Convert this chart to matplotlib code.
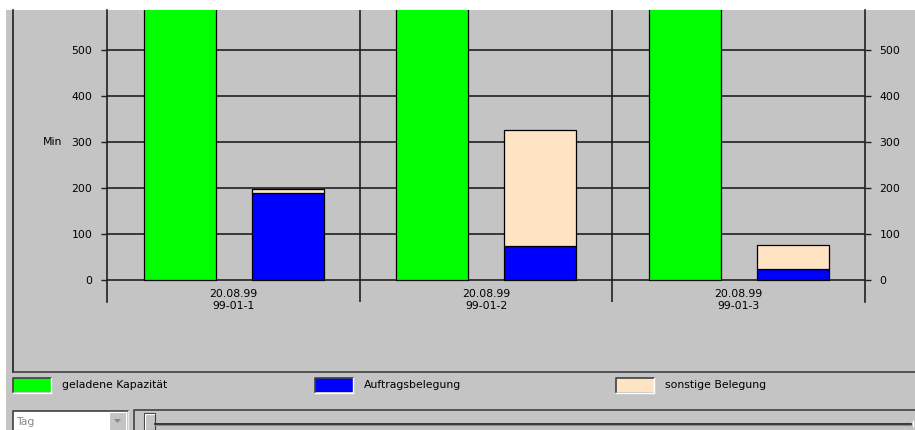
"""
Kapazitaetsauslastung pro Arbeitsplatz (Tagesansicht).
Gestapelte Balken: Auftragsbelegung + sonstige Belegung neben der geladenen Kapazitaet.
"""

import matplotlib

matplotlib.use("Agg")
import matplotlib.pyplot as plt
from matplotlib.patches import Rectangle, Polygon

# Daten
dates = ["20.08.99", "20.08.99", "20.08.99"]
workplaces = ["99-01-1", "99-01-2", "99-01-3"]
capacity = [960, 960, 960]
order_load = [188, 73, 23]
other_load = [9, 252, 52]

series_names = ["geladene Kapazität", "Auftragsbelegung", "sonstige Belegung"]
series_colors = ["#00ff00", "#0000ff", "#ffe4c4"]

y_ticks = [0, 100, 200, 300, 400, 500]

W, H = 915, 430
BG = "#c4c4c4"
DARK = "#202020"
FONT = "DejaVu Sans"
FS = 7.8


def px_axes(fig, left, top, right, bottom, **kw):
    """Axes placed by pixel box (origin top-left)."""
    return fig.add_axes(
        [left / W, 1 - bottom / H, (right - left) / W, (bottom - top) / H], **kw
    )


def main():
    fig = plt.figure(figsize=(W / 100, H / 100), dpi=100, facecolor="white")

    # Fensterrahmen, Legende und Bedienelemente in Pixelkoordinaten
    frame = fig.add_axes([0, 0, 1, 1], zorder=0)
    frame.set_xlim(0, W)
    frame.set_ylim(H, 0)
    frame.axis("off")
    frame.add_patch(Rectangle((6, 10), W - 6, H - 10, color=BG, lw=0))
    # Rahmen des Diagrammbereichs
    frame.plot([12.5, 12.5], [10, 372], color=DARK, lw=1.2)
    frame.plot([12.5, W], [372, 372], color="#404040", lw=1.2)

    # Legende
    for i, (name, col) in enumerate(zip(series_names, series_colors)):
        x0 = 13 + i * 301.5
        frame.add_patch(Rectangle((x0, 378), 38, 14, facecolor=col, lw=0))
        frame.plot([x0, x0, x0 + 38], [392, 378, 378], color="#404040", lw=1.2)
        frame.plot([x0, x0 + 38, x0 + 38], [392.5, 392.5, 378], color="white", lw=1)
        frame.text(x0 + 49, 385.5, name, fontsize=FS, family=FONT,
                   va="center", ha="left", color="black")

    # Auswahlfeld "Tag"
    frame.add_patch(Rectangle((13, 411), 114, 19, facecolor="white", lw=0))
    frame.plot([12.5, 12.5, 127.5], [430, 410.5, 410.5], color="#404040", lw=1.2)
    frame.plot([127.5, 127.5], [410.5, 430], color="#e8e8e8", lw=1)
    frame.add_patch(Rectangle((109, 412), 17, 18, facecolor=BG, lw=0))
    frame.plot([109, 109, 126], [430, 412, 412], color="white", lw=0.8)
    frame.add_patch(Polygon([[114, 419], [121, 419], [117.5, 423]],
                            closed=True, facecolor="#8a8a8a", lw=0))
    frame.text(16, 422, "Tag", fontsize=FS, family=FONT, va="center",
               ha="left", color="#8a8a8a")

    # Schieberegler
    frame.plot([133.5, 133.5, W], [430, 409.5, 409.5], color="#404040", lw=1.2)
    frame.plot([155, 911], [423.5, 423.5], color="#202020", lw=1.2)
    frame.plot([155, 912], [425, 425], color="#8c8c8c", lw=0.8)
    frame.plot([912.5, 912.5], [421, 426], color="white", lw=1)
    frame.add_patch(Rectangle((144, 413), 11, 17, facecolor=BG,
                              edgecolor="#404040", lw=0.8))
    frame.plot([145, 145, 154], [430, 414, 414], color="white", lw=0.8)

    # "Min" Achsentitel
    frame.text(43, 142, "Min", fontsize=FS, family=FONT, va="center",
               ha="left", color="black")

    # Diagramm
    ax = px_axes(fig, 107, 10, 865, 302, zorder=1)
    ax.patch.set_alpha(0)
    ax.set_xlim(0, len(workplaces))
    ax.set_ylim(-48.9, 586)

    for v in y_ticks:
        ax.axhline(v, color=DARK, lw=1.2, zorder=1)
    for i in range(1, len(workplaces)):
        ax.axvline(i, color=DARK, lw=1.2, zorder=1)

    centers = [i + 0.5 for i in range(len(workplaces))]
    bw = 0.285
    green_x = [c - 0.212 for c in centers]
    load_x = [c + 0.215 for c in centers]

    ax.bar(green_x, capacity, width=bw, color=series_colors[0],
           edgecolor="black", lw=0.9, zorder=3)
    ax.bar(load_x, order_load, width=bw, color=series_colors[1],
           edgecolor="black", lw=0.9, zorder=3)
    ax.bar(load_x, other_load, width=bw, bottom=order_load,
           color=series_colors[2], edgecolor="black", lw=0.9, zorder=3)

    for c, d, wp in zip(centers, dates, workplaces):
        ax.text(c, -21.5, f"{d}\n{wp}", ha="center", va="top", fontsize=FS,
                family=FONT, linespacing=1.15, color="black")

    for side in ("top", "bottom"):
        ax.spines[side].set_visible(False)
    for side in ("left", "right"):
        ax.spines[side].set_color(DARK)
        ax.spines[side].set_linewidth(1.2)

    ax.set_xticks([])
    ax.set_yticks(y_ticks)
    ax.set_yticklabels([str(v) for v in y_ticks], family=FONT, fontsize=FS)
    ax.tick_params(axis="y", which="both", left=True, right=True,
                   labelleft=True, labelright=True, direction="out",
                   length=4, width=1, color=DARK, pad=6.5)

    fig.savefig("out.png", dpi=100, facecolor="white")


if __name__ == "__main__":
    main()
